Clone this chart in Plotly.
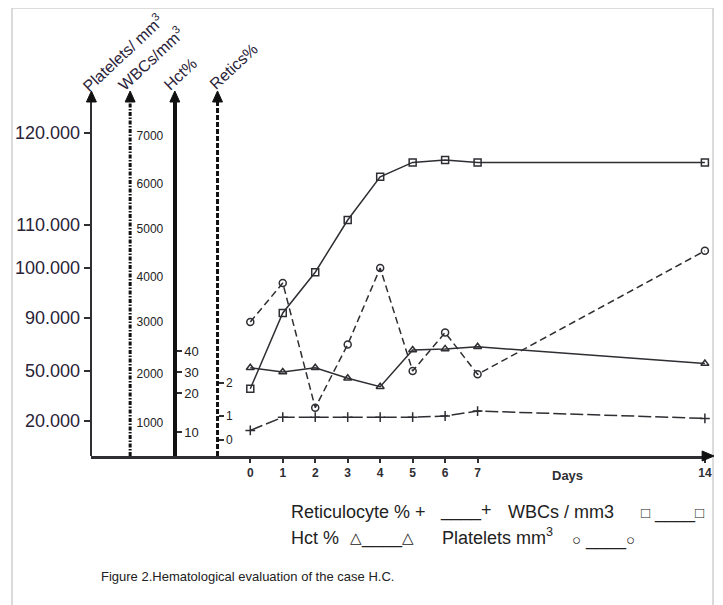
import numpy as np
import plotly.graph_objects as go

# ---------------- data ----------------
days = [0, 1, 2, 3, 4, 5, 6, 7, 14]
retics_pct = [0.4, 0.95, 0.95, 0.95, 0.95, 0.95, 1.0, 1.15, 0.9]
wbcs_mm3 = [1700, 3200, 4100, 5200, 6150, 6450, 6500, 6450, 6450]
hct_pct = [32, 30, 32, 27, 23, 40.5, 41, 42, 34]
platelets_mm3 = [87000, 97000, 28000, 70000, 100000, 50000, 79000, 48000, 104000]

day_ticks = [0, 1, 2, 3, 4, 5, 6, 7, 14]
platelet_ticks = [20000, 50000, 90000, 100000, 110000, 120000]
platelet_labels = ["20.000", "50.000", "90.000", "100.000", "110.000", "120.000"]
wbc_ticks = [1000, 2000, 3000, 4000, 5000, 6000, 7000]
wbc_labels = ["1000", "2000", "3000", "4000", "5000", "6000", "7000"]
hct_ticks = [10, 20, 30, 40]
hct_labels = ["10", "20", "30", "40"]
retic_ticks = [0, 1, 2]
retic_labels = ["0", "1", "2"]

# ---------------- layout geometry ----------------
PAGE_W, PAGE_H = 723, 605
OFF = 8                              # default page margin of the html body
W, H = PAGE_W - OFF, PAGE_H - OFF
BASE_PY, TOP_PY = 456, 100           # day axis and top of vertical axes (page px)
Y_RANGE = [0, BASE_PY - TOP_PY]
# the original uses broken, non-uniform vertical scales: tick heights above the day axis
plat_pos = [35, 85, 138, 188, 231, 323]
wbc_pos = [33, 82, 134, 179, 227, 272, 320]
hct_pos = [24, 63, 84, 105]
retic_pos = [16, 40, 73]
AX_PX = {"plat": 92, "wbc": 131, "hct": 176, "retic": 219}
DAY0_PX, PX_PER_DAY = 252, 32.7
XDOM = [92, 712]


def scale(vals, ticks, pos):
    v = np.asarray(vals, float)
    t = np.asarray(ticks, float)
    p = np.asarray(pos, float)
    out = np.interp(v, t, p)
    lo, hi = v < t[0], v > t[-1]
    out[lo] = p[0] + (v[lo] - t[0]) * (p[1] - p[0]) / (t[1] - t[0])
    out[hi] = p[-1] + (v[hi] - t[-1]) * (p[-1] - p[-2]) / (t[-1] - t[-2])
    return out


def px(x):
    return (x - OFF) / W


def py(y):
    return (H - (y - OFF)) / H


INK = "#2e2e33"
FONT = "Liberation Sans, Arial, sans-serif"
ydom = [py(BASE_PY), py(TOP_PY)]

fig = go.Figure()

fig.add_trace(go.Scatter(
    x=days, y=scale(platelets_mm3, platelet_ticks, plat_pos), yaxis="y",
    mode="lines+markers", name="Platelets mm3", cliponaxis=False,
    line=dict(color=INK, width=1.5, dash="7px,4px"),
    marker=dict(symbol="circle-open", size=7, color=INK, line=dict(width=1.5))))
fig.add_trace(go.Scatter(
    x=days, y=scale(wbcs_mm3, wbc_ticks, wbc_pos), yaxis="y2",
    mode="lines+markers", name="WBCs / mm3", cliponaxis=False,
    line=dict(color=INK, width=1.5),
    marker=dict(symbol="square-open", size=7, color=INK, line=dict(width=1.5))))
fig.add_trace(go.Scatter(
    x=days, y=scale(hct_pct, hct_ticks, hct_pos), yaxis="y3",
    mode="lines+markers", name="Hct %", cliponaxis=False,
    line=dict(color=INK, width=1.5),
    marker=dict(symbol="triangle-up-open", size=7, color=INK, line=dict(width=1.5))))
fig.add_trace(go.Scatter(
    x=days, y=scale(retics_pct, retic_ticks, retic_pos), yaxis="y4",
    mode="lines+markers", name="Reticulocyte %", cliponaxis=False,
    line=dict(color=INK, width=1.5, dash="13px,4px"),
    marker=dict(symbol="cross-thin", size=7, color=INK, line=dict(width=1.5, color=INK))))

common_y = dict(range=Y_RANGE, showgrid=False, zeroline=False, fixedrange=True)

fig.update_layout(
    width=W, height=H,
    margin=dict(l=0, r=0, t=0, b=0),
    paper_bgcolor="white", plot_bgcolor="rgba(0,0,0,0)",
    showlegend=False,
    font=dict(family=FONT, color=INK),
    xaxis=dict(domain=[px(XDOM[0]), px(XDOM[1])],
               range=[(XDOM[0] - DAY0_PX) / PX_PER_DAY, (XDOM[1] - DAY0_PX) / PX_PER_DAY],
               anchor="y", showline=True, linecolor=INK, linewidth=2.5,
               ticks="outside", ticklen=4, tickwidth=1.5, tickcolor=INK,
               tickvals=day_ticks, ticktext=[str(d) for d in day_ticks],
               tickfont=dict(size=12, weight="bold"),
               showgrid=False, zeroline=False, fixedrange=True),
    yaxis=dict(domain=ydom, anchor="free", position=px(AX_PX["plat"]), side="left",
               showline=True, linecolor=INK, linewidth=1.5,
               ticks="outside", ticklen=7, tickwidth=1.5, tickcolor=INK,
               tickvals=plat_pos, ticktext=platelet_labels,
               tickfont=dict(size=18, color="#2a2338"), **common_y),
    yaxis2=dict(overlaying="y", anchor="free", position=px(AX_PX["wbc"]), side="right",
                showline=False, ticks="outside", ticklen=3, tickcolor="rgba(0,0,0,0)",
                tickvals=wbc_pos, ticktext=wbc_labels,
                tickfont=dict(size=12, color="#222"), **common_y),
    yaxis3=dict(overlaying="y", anchor="free", position=px(AX_PX["hct"]), side="right",
                showline=True, linecolor="#111", linewidth=3.5,
                ticks="outside", ticklen=5, tickwidth=1.5, tickcolor=INK,
                tickvals=hct_pos, ticktext=hct_labels,
                tickfont=dict(size=13, color="#222"), **common_y),
    yaxis4=dict(overlaying="y", anchor="free", position=px(AX_PX["retic"]), side="right",
                showline=False,
                ticks="outside", ticklen=5, tickwidth=1.5, tickcolor=INK,
                tickvals=retic_pos, ticktext=retic_labels,
                tickfont=dict(size=12, color="#222"), **common_y),
)


def tri(x_tip, y_tip, direction):
    # filled arrowhead path in paper coords
    if direction == "up":
        pts = [(x_tip, y_tip), (x_tip - 5, y_tip + 11), (x_tip + 5, y_tip + 11)]
    else:
        pts = [(x_tip, y_tip), (x_tip - 12, y_tip - 5), (x_tip - 12, y_tip + 5)]
    d = "M " + " L ".join(f"{px(a):.5f},{py(b):.5f}" for a, b in pts) + " Z"
    return dict(type="path", xref="paper", yref="paper", path=d,
                fillcolor="#111", line=dict(color="#111", width=1))


shapes = [
    # dashed axis lines (WBCs, Retics)
    dict(type="line", xref="paper", yref="paper", x0=px(AX_PX["wbc"]), x1=px(AX_PX["wbc"]),
         y0=ydom[0], y1=ydom[1], line=dict(color="#111", width=3, dash="4px,1.5px,1.5px,1.5px")),
    dict(type="line", xref="paper", yref="paper", x0=px(AX_PX["retic"]), x1=px(AX_PX["retic"]),
         y0=ydom[0], y1=ydom[1], line=dict(color="#111", width=3, dash="5px,2px")),
    # light frame of the scanned figure
    dict(type="line", xref="paper", yref="paper", x0=px(12), x1=px(12), y0=0, y1=py(8),
         line=dict(color="#cfcfcf", width=1.5)),
    dict(type="line", xref="paper", yref="paper", x0=px(12), x1=px(718), y0=py(8), y1=py(8),
         line=dict(color="#cfcfcf", width=1.5)),
    dict(type="line", xref="paper", yref="paper", x0=px(718), x1=px(718), y0=0, y1=py(8),
         line=dict(color="#cfcfcf", width=1.5)),
]
for k in ["plat", "wbc", "hct", "retic"]:
    shapes.append(tri(AX_PX[k], 91, "up"))
shapes.append(tri(719, BASE_PY, "right"))
fig.update_layout(shapes=shapes)

ann = []
# rotated axis titles
titles = [("Platelets/ mm<sup>3</sup>", 123, 53), ("WBCs/mm<sup>3</sup>", 152, 58),
          ("Hct%", 181, 74), ("Retics%", 235, 66)]
for t, cx, cy in titles:
    ann.append(dict(x=px(cx), y=py(cy), xref="paper", yref="paper", text=t,
                    showarrow=False, textangle=-43, xanchor="center", yanchor="middle",
                    font=dict(size=16, color="#2a2338")))

ann.append(dict(x=px(589), y=py(485), xref="paper", yref="paper", text="Days",
                showarrow=False, font=dict(size=13, weight="bold")))

# hand-drawn style key
SYM = "<span style='font-size:15px'>{}</span>"
key = [
    ("Reticulocyte % +", 291, 512), ("____+", 441, 510),
    ("WBCs / mm3", 510, 512), (SYM.format("□") + " ____" + SYM.format("□"), 643, 512),
    ("Hct %", 291, 538), (SYM.format("△") + "____" + SYM.format("△"), 350, 537),
    ("Platelets mm<sup>3</sup>", 443, 536), (SYM.format("○") + " ____" + SYM.format("○"), 574, 539),
]
for t, x, y in key:
    ann.append(dict(x=px(x), y=py(y), xref="paper", yref="paper", text=t, showarrow=False,
                    xanchor="left", yanchor="middle", font=dict(size=18, color="#222")))

ann.append(dict(x=px(100), y=py(576), xref="paper", yref="paper",
                text="Figure 2.Hematological evaluation of the case H.C.", showarrow=False,
                xanchor="left", yanchor="middle", font=dict(size=13, color="#222")))

fig.update_layout(annotations=ann)
fig.write_html("out.html")
